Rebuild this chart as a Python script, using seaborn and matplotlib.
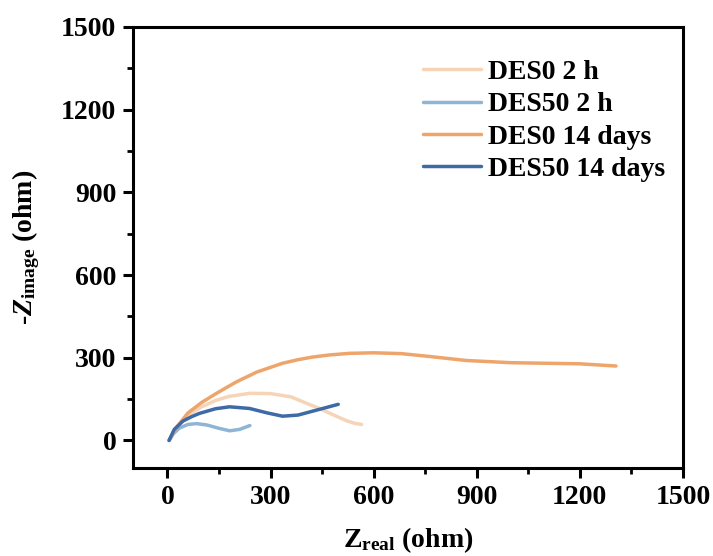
import numpy as np
import pandas as pd
import matplotlib
matplotlib.use("Agg")
import matplotlib.pyplot as plt
import seaborn as sns
from matplotlib.ticker import MultipleLocator

# Nyquist data (Z_real, -Z_image) in ohm
des0_2h_x = [5, 18, 40, 70, 100, 140, 180, 240, 300, 360, 414, 445, 470, 495, 520, 545, 565]
des0_2h_y = [0, 30, 65, 100, 122, 145, 160, 171, 170, 158, 130, 115, 100, 86, 72, 62, 58]

des50_2h_x = [5, 18, 35, 60, 85, 115, 150, 181, 210, 240]
des50_2h_y = [0, 25, 45, 58, 61, 56, 44, 35, 40, 54]

des0_14d_x = [5, 25, 60, 100, 143, 200, 260, 335, 380, 420, 470, 530, 600, 680, 760, 870, 1000, 1100, 1200, 1305]
des0_14d_y = [0, 45, 100, 138, 171, 212, 248, 280, 293, 302, 310, 316, 318, 315, 305, 290, 282, 280, 278, 270]

des50_14d_x = [5, 20, 45, 70, 93, 140, 181, 239, 290, 335, 380, 440, 497]
des50_14d_y = [0, 40, 70, 86, 98, 115, 122, 116, 100, 88, 92, 112, 131]

labels = ["DES0 2 h", "DES50 2 h", "DES0 14 days", "DES50 14 days"]
colors = ["#F6D4B8", "#8EB5D6", "#EEA56C", "#3E6AA6"]

series = [(des0_2h_x, des0_2h_y), (des50_2h_x, des50_2h_y),
          (des0_14d_x, des0_14d_y), (des50_14d_x, des50_14d_y)]
frames = []
for lab, (xs, ys) in zip(labels, series):
    frames.append(pd.DataFrame({"zreal": xs, "zimag": ys, "sample": lab}))
df = pd.concat(frames, ignore_index=True)

sns.set_theme(style="white")
plt.rcParams["font.family"] = ["Liberation Serif", "DejaVu Serif"]
plt.rcParams["font.weight"] = "bold"
plt.rcParams["text.color"] = "black"
plt.rcParams["axes.labelcolor"] = "black"
plt.rcParams["mathtext.fontset"] = "custom"
plt.rcParams["mathtext.rm"] = "Liberation Serif:bold"
plt.rcParams["mathtext.bf"] = "Liberation Serif:bold"
plt.rcParams["mathtext.it"] = "Liberation Serif:italic:bold"

fig = plt.figure(figsize=(7.13, 5.56), dpi=100)
ax = fig.add_axes([133 / 713, 1 - 468 / 556, 550 / 713, 441 / 556])

sns.lineplot(data=df, x="zreal", y="zimag", hue="sample", hue_order=labels,
             palette=colors, sort=False, estimator=None, linewidth=2.5, ax=ax)
for ln in ax.get_lines():
    ln.set_solid_joinstyle("round")
    ln.set_solid_capstyle("round")

ax.set_xlim(-100, 1500)
ax.set_ylim(-100, 1500)
ax.set_xticks(np.arange(0, 1501, 300))
ax.set_yticks(np.arange(0, 1501, 300))
ax.xaxis.set_minor_locator(MultipleLocator(150))
ax.yaxis.set_minor_locator(MultipleLocator(150))

for s in ax.spines.values():
    s.set_linewidth(2.2)
    s.set_color("black")

ax.tick_params(axis="both", which="major", direction="out", length=7, width=2.2,
               labelsize=20, pad=5, bottom=True, left=True, top=False, right=False,
               colors="black")
ax.tick_params(axis="both", which="minor", direction="out", length=4, width=2.0,
               bottom=True, left=True, top=False, right=False, colors="black")
for t in ax.get_xticklabels() + ax.get_yticklabels():
    t.set_fontweight("bold")

ax.set_xlabel(r"Z$_{\mathrm{real}}$ (ohm)", fontsize=20, fontweight="bold",
              labelpad=11, color="black")
ax.set_ylabel(r"-$\mathit{Z}_{\mathrm{image}}$ (ohm)", fontsize=20, fontweight="bold",
              labelpad=14, color="black")

leg = ax.legend(loc="upper left", bbox_to_anchor=(0.481, 0.983), frameon=False,
                prop={"family": "Liberation Serif", "weight": "bold", "size": 20},
                handlelength=2.1, handletextpad=0.25, labelspacing=0.25)
for h in leg.get_lines():
    h.set_linewidth(2.5)
for t in leg.get_texts():
    t.set_color("black")

fig.savefig("out.png", dpi=100)
